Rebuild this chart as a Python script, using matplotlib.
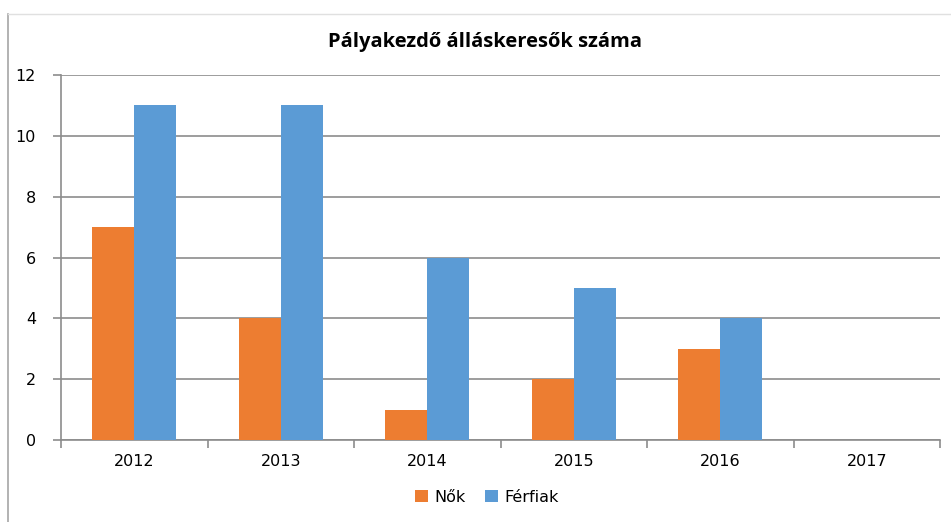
import matplotlib
matplotlib.use("Agg")
import matplotlib.pyplot as plt
from matplotlib.lines import Line2D
import numpy as np

years = ["2012", "2013", "2014", "2015", "2016", "2017"]
nok = [7, 4, 1, 2, 3, 0]
ferfiak = [11, 11, 6, 5, 4, 0]
yticks = [0, 2, 4, 6, 8, 10, 12]

plt.rcParams['font.family'] = ['DejaVu Sans']

W, H = 951, 522
fig = plt.figure(figsize=(W/100, H/100), dpi=100)
ax = fig.add_axes([61/W, 1-440/H, (940-61)/W, (440-75)/H])

x = np.arange(len(years))
bw = 0.287
ax.bar(x - bw/2, nok, bw, color="#ED7D31", label="Nők", zorder=3)
ax.bar(x + bw/2, ferfiak, bw, color="#5B9BD5", label="Férfiak", zorder=3)

ax.set_xlim(-0.5, len(years) - 0.5)
ax.set_ylim(0, 12)
ax.set_yticks(yticks)
ax.set_yticklabels([str(v) for v in yticks], fontsize=11.5)
ax.yaxis.grid(True, color="#8c8c8c", linewidth=1.2, zorder=0)
ax.set_xticks(x)
ax.set_xticklabels(years, fontsize=11.5)
ax.tick_params(axis='x', length=0, pad=10)
ax.set_xticks(np.arange(-0.5, len(years)), minor=True)
ax.tick_params(axis='x', which='minor', length=6, color="#8c8c8c", width=1.2)
ax.tick_params(axis='y', length=6, color="#8c8c8c", width=1.2, pad=12)
for s in ['top', 'right']:
    ax.spines[s].set_visible(False)
ax.spines['left'].set_color("#8c8c8c")
ax.spines['bottom'].set_color("#8c8c8c")
ax.spines['left'].set_linewidth(1.2)
ax.spines['bottom'].set_linewidth(1.2)

fig.text(485/W, 1-42/H, "Pályakezdő álláskeresők száma", ha='center', va='center',
         fontsize=14.5, fontweight='bold', family=['Open Sans', 'DejaVu Sans'])

fig.legend(loc='center', bbox_to_anchor=(487/W, 1-497/H), ncol=2, frameon=False,
           fontsize=11.5, handlelength=0.8, handleheight=0.8, columnspacing=1.2,
           handletextpad=0.4)

# chart area border
fig.add_artist(Line2D([8/W, 8/W], [0, 1-14/H], color="#a6a6a6", linewidth=1.2))
fig.add_artist(Line2D([8/W, 1], [1-14/H, 1-14/H], color="#e0e0e0", linewidth=1))

fig.savefig("out.png", dpi=100)
